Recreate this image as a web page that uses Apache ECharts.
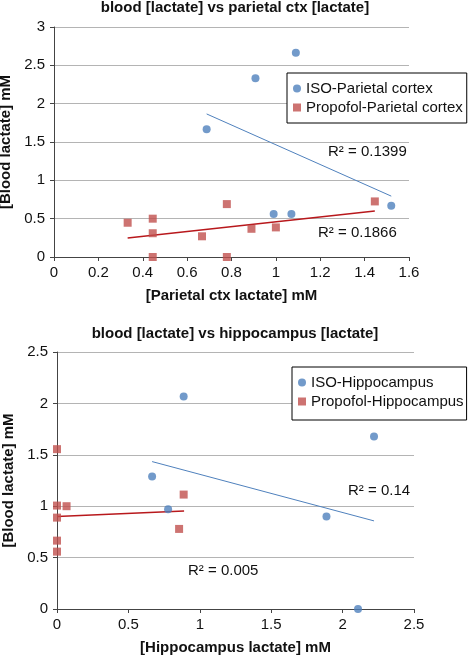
<!DOCTYPE html>
<html>
<head>
<meta charset="utf-8">
<script src="https://cdn.jsdelivr.net/npm/echarts@6/dist/echarts.min.js"></script>
<style>
html,body{margin:0;padding:0;background:#fff;}
#c{width:470px;height:656px;}
</style>
</head>
<body>
<div id="c"></div>
<script>
// ---- Chart 1: blood vs parietal cortex ----
var title1 = 'blood [lactate] vs parietal ctx [lactate]';
var xName1 = '[Parietal ctx lactate] mM';
var yName1 = '[Blood lactate] mM';
var isoPar = [[0.688,1.667],[0.908,2.33],[1.09,2.665],[0.99,0.56],[1.07,0.56],[1.52,0.67]];
var propPar = [[0.332,0.447],[0.445,0.5],[0.445,0.31],[0.445,0],[0.667,0.27],[0.779,0.69],[0.779,0],[0.89,0.368],[1.0,0.386],[1.446,0.725]];
var isoParTrend = [[0.688,1.866],[1.52,0.794]];
var propParTrend = [[0.332,0.247],[1.446,0.599]];
var r2Par = ['R\u00b2 = 0.1399','R\u00b2 = 0.1866'];
var legend1 = ['ISO-Parietal cortex','Propofol-Parietal cortex'];

// ---- Chart 2: blood vs hippocampus ----
var title2 = 'blood [lactate] vs hippocampus [lactate]';
var xName2 = '[Hippocampus lactate] mM';
var yName2 = '[Blood lactate] mM';
var isoHip = [[0.887,2.067],[2.22,1.678],[0.666,1.288],[0.778,0.971],[1.887,0.899],[2.108,0]];
var propHip = [[0,1.555],[0,1.006],[0.067,1.0],[0,0.889],[0,0.665],[0,0.558],[0.887,1.113],[0.855,0.779]];
var isoHipTrend = [[0.666,1.434],[2.22,0.857]];
var propHipTrend = [[0,0.899],[0.89,0.954]];
var r2Hip = ['R\u00b2 = 0.14','R\u00b2 = 0.005'];
var legend2 = ['ISO-Hippocampus','Propofol-Hippocampus'];

var BLUE = '#4f81bd', RED = '#c0504d', DRED = '#b8181c';
var FONT = '"Liberation Sans", Arial, Helvetica, sans-serif';

function xAxis(gi, max, interval, name) {
  return {
    gridIndex: gi, type: 'value', min: 0, max: max, interval: interval,
    name: name, nameLocation: 'middle', nameGap: 31,
    nameTextStyle: {fontFamily: FONT, fontSize: 15, fontWeight: 'bold', color: '#111'},
    axisLine: {show: true, onZero: false, lineStyle: {color: '#444', width: 1}},
    axisTick: {show: true, inside: false, length: 4, lineStyle: {color: '#444'}},
    axisLabel: {fontFamily: FONT, fontSize: 15, color: '#111', margin: 8},
    splitLine: {show: false}
  };
}
function yAxis(gi, max, interval, name, gap) {
  return {
    gridIndex: gi, type: 'value', min: 0, max: max, interval: interval,
    name: name, nameLocation: 'middle', nameGap: gap, nameRotate: 90,
    nameTextStyle: {fontFamily: FONT, fontSize: 15, fontWeight: 'bold', color: '#111'},
    axisLine: {show: true, onZero: false, lineStyle: {color: '#444', width: 1}},
    axisTick: {show: true, inside: false, length: 4, lineStyle: {color: '#444'}},
    axisLabel: {fontFamily: FONT, fontSize: 15, color: '#111', margin: 9},
    splitLine: {show: true, lineStyle: {color: '#b4b4b4', width: 1}}
  };
}
function scatter(name, data, gi, color, symbol) {
  return {name: name, type: 'scatter', xAxisIndex: gi, yAxisIndex: gi, data: data,
    symbol: symbol, symbolSize: 8, clip: false, itemStyle: {color: color}, z: 3};
}
function trend(name, data, gi, color, w) {
  return {name: name, type: 'line', xAxisIndex: gi, yAxisIndex: gi, data: data,
    symbol: 'none', showSymbol: false, lineStyle: {color: color, width: w}, z: 2, silent: true};
}
function legend(data, left, top, pad) {
  return {data: data, orient: 'vertical', left: left, top: top,
    backgroundColor: '#fff', borderColor: '#000', borderWidth: 1,
    padding: pad, itemGap: 4, itemWidth: 8, itemHeight: 8,
    textStyle: {fontFamily: FONT, fontSize: 15, color: '#111'}, z: 10};
}
function r2(text, x, y) {
  return {type: 'text', left: x, top: y - 9, z: 20,
    style: {text: text, font: '15px ' + FONT, fill: '#111'}};
}

var chart = echarts.init(document.getElementById('c'), null, {renderer: 'canvas'});
chart.setOption({
  animation: false,
  backgroundColor: '#fff',
  title: [
    {text: title1, left: 'center', top: 0, padding: 0,
     textStyle: {fontFamily: FONT, fontSize: 15, fontWeight: 'bold', color: '#111'}},
    {text: title2, left: 'center', top: 326, padding: 0,
     textStyle: {fontFamily: FONT, fontSize: 15, fontWeight: 'bold', color: '#111'}}
  ],
  grid: [
    {left: 54, top: 27, width: 355, height: 230, outerBoundsMode: 'none', containLabel: false},
    {left: 57, top: 352, width: 357, height: 257, outerBoundsMode: 'none', containLabel: false}
  ],
  xAxis: [xAxis(0, 1.6, 0.2, xName1), xAxis(1, 2.5, 0.5, xName2)],
  yAxis: [yAxis(0, 3, 0.5, yName1, 37), yAxis(1, 2.5, 0.5, yName2, 41)],
  legend: [legend(legend1, 287, 73, [8, 4, 8, 6]), legend(legend2, 292, 367, [8, 3, 11, 6])],
  series: [
    trend('t1', isoParTrend, 0, BLUE, 1),
    trend('t2', propParTrend, 0, DRED, 1.5),
    scatter(legend1[0], isoPar, 0, BLUE, 'circle'),
    scatter(legend1[1], propPar, 0, RED, 'rect'),
    trend('t3', isoHipTrend, 1, BLUE, 1),
    trend('t4', propHipTrend, 1, DRED, 1.5),
    scatter(legend2[0], isoHip, 1, BLUE, 'circle'),
    scatter(legend2[1], propHip, 1, RED, 'rect')
  ],
  graphic: [
    r2(r2Par[0], 328, 153),
    r2(r2Par[1], 318, 234),
    r2(r2Hip[0], 348, 492),
    r2(r2Hip[1], 188, 572)
  ]
});
</script>
</body>
</html>
